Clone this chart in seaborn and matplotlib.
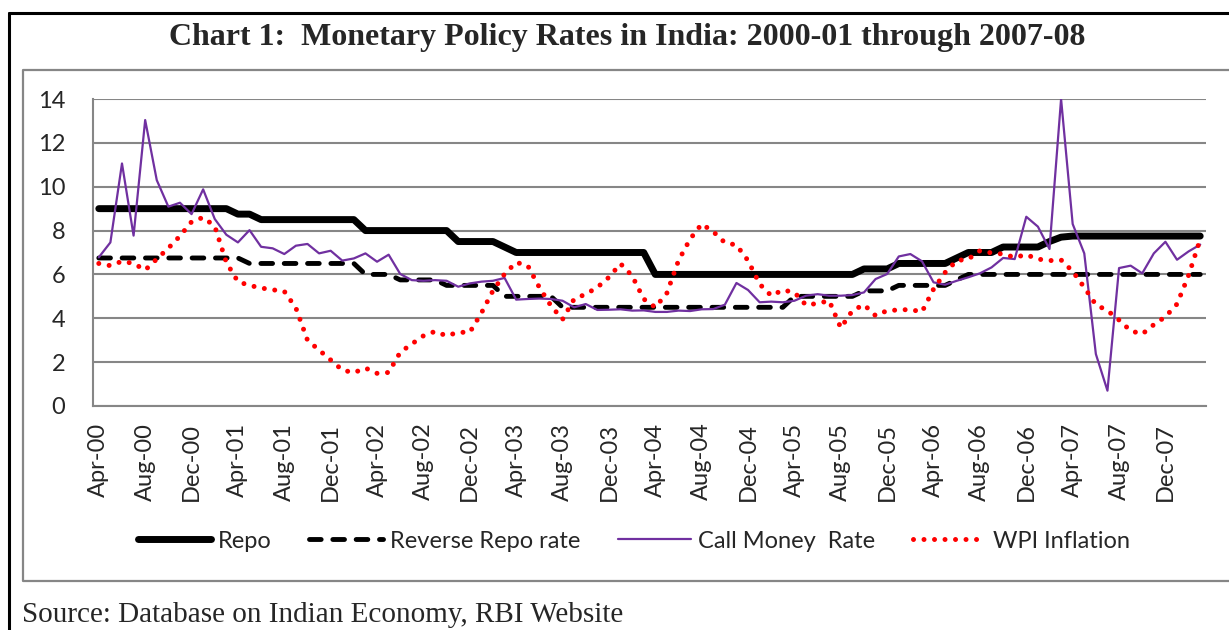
"""
Chart 1: monetary policy rates in India, Apr-2000 to Mar-2008
"""

import matplotlib
matplotlib.use('AGG')
import matplotlib.pyplot as plt
from matplotlib.lines import Line2D
import numpy as np
import pandas as pd
import seaborn as sns

# monthly values Apr-00 .. Mar-08 (96 months)
repo = ([9.0] * 12 + [8.75] * 2 + [8.5] * 9 + [8.0] * 8 + [7.5] * 4 + [7.25]
        + [7.0] * 12 + [6.0] * 18 + [6.25] * 3 + [6.5] * 5 + [6.75]
        + [7.0] * 3 + [7.25] * 4 + [7.5, 7.7] + [7.75] * 12)

reverse_repo = ([6.75] * 13 + [6.5] * 10 + [6.0] * 3 + [5.75] * 4 + [5.5] * 5
                + [5.0] * 5 + [4.5] * 20 + [5.0] * 6 + [5.25] * 3 + [5.5] * 5
                + [5.75] + [6.0] * 21)

call_money = [6.78, 7.46, 11.06, 7.77, 13.04, 10.3, 9.09, 9.27, 8.75, 9.88, 8.53, 7.81,
              7.46, 8.02, 7.26, 7.19, 6.93, 7.31, 7.39, 6.96, 7.08, 6.63, 6.73, 6.96,
              6.58, 6.9, 6.02, 5.74, 5.71, 5.74, 5.71, 5.44, 5.59, 5.67, 5.71, 5.84,
              4.85, 4.88, 4.9, 4.88, 4.8, 4.5, 4.65, 4.38, 4.39, 4.41, 4.35, 4.36,
              4.29, 4.29, 4.35, 4.33, 4.41, 4.42, 4.62, 5.61, 5.29, 4.73, 4.76, 4.73,
              4.8, 5.03, 5.1, 5.03, 5.03, 5.06, 5.18, 5.79, 6.02, 6.82, 6.93, 6.6,
              5.64, 5.53, 5.71, 5.87, 6.05, 6.32, 6.75, 6.7, 8.63, 8.18, 7.16, 14.0,
              8.3, 6.96, 2.37, 0.7, 6.29, 6.4, 6.05, 6.96, 7.49, 6.67, 7.05, 7.36]

wpi = [6.5, 6.4, 6.6, 6.5, 6.2, 6.7, 7.2, 7.75, 8.4, 8.6, 8.2, 6.55,
       5.67, 5.5, 5.38, 5.3, 5.23, 4.47, 3.0, 2.55, 2.1, 1.64, 1.52, 1.73,
       1.49, 1.53, 2.45, 2.83, 3.2, 3.4, 3.2, 3.36, 3.36, 4.24, 5.26, 6.02,
       6.55, 6.4, 5.41, 4.57, 3.95, 4.88, 5.1, 5.41, 5.87, 6.49, 5.94, 4.88,
       4.5, 5.15, 6.63, 7.61, 8.3, 7.95, 7.45, 7.34, 6.63, 5.56, 5.03, 5.29,
       5.18, 4.6, 4.68, 4.8, 3.56, 4.35, 4.62, 4.12, 4.35, 4.38, 4.4, 4.29,
       5.33, 6.09, 6.63, 6.7, 7.08, 6.98, 6.93, 6.78, 6.9, 6.7, 6.63, 6.66,
       6.14, 5.41, 4.62, 4.35, 3.92, 3.43, 3.28, 3.71, 4.07, 4.65, 5.96, 7.6]

tick_labels = ['Apr-00', 'Aug-00', 'Dec-00', 'Apr-01', 'Aug-01', 'Dec-01',
               'Apr-02', 'Aug-02', 'Dec-02', 'Apr-03', 'Aug-03', 'Dec-03',
               'Apr-04', 'Aug-04', 'Dec-04', 'Apr-05', 'Aug-05', 'Dec-05',
               'Apr-06', 'Aug-06', 'Dec-06', 'Apr-07', 'Aug-07', 'Dec-07']

df = pd.DataFrame({'month': np.arange(len(repo)), 'repo': repo,
                   'rrepo': reverse_repo, 'call': call_money, 'wpi': wpi})

sns.set_style('white')
plt.rcParams['font.family'] = ['Lato', 'DejaVu Sans']

grey = '#868686'
fig = plt.figure(figsize=(12.29, 6.3), dpi=100)
ax = fig.add_axes([93 / 1229, 1 - 406 / 630, 1113 / 1229, 307 / 630])

sns.lineplot(data=df, x='month', y='repo', ax=ax, color='black', lw=5,
             solid_capstyle='round', solid_joinstyle='round', label='Repo')
sns.lineplot(data=df, x='month', y='rrepo', ax=ax, color='black', lw=3.5,
             linestyle=(0, (2.4, 2.4)), dash_capstyle='round',
             dash_joinstyle='round', label='Reverse Repo rate')
sns.lineplot(data=df, x='month', y='call', ax=ax, color='#7030A0', lw=1.6,
             label='Call Money  Rate')
sns.lineplot(data=df, x='month', y='wpi', ax=ax, color='#FF0000', lw=3.6,
             linestyle=(0, (0.001, 2.1)), dash_capstyle='round',
             label='WPI Inflation')

ax.set_xlim(-0.5, len(repo) - 0.5)
ax.set_ylim(0, 14)
ax.set_yticks(range(0, 15, 2))
ax.set_xticks(np.arange(0, len(repo), 4))
ax.set_xticklabels(tick_labels, rotation=90, va='top', ha='center')
ax.set_xticks(np.arange(-0.5, len(repo), 4), minor=True)
ax.tick_params(axis='x', which='major', length=0, pad=12, labelsize=17)
ax.tick_params(axis='x', which='minor', length=8, width=1.5, color=grey,
               direction='out')
ax.tick_params(axis='y', length=8, width=1.5, color=grey, direction='out',
               pad=12, labelsize=17)
ax.yaxis.grid(True, color=grey, lw=1.5)
ax.set_axisbelow(True)
ax.set_xlabel('')
ax.set_ylabel('')
for side in ['top', 'right']:
    ax.spines[side].set_visible(False)
for side in ['left', 'bottom']:
    ax.spines[side].set_color(grey)
    ax.spines[side].set_linewidth(1.5)

handles, labels = ax.get_legend_handles_labels()
ax.get_legend().remove()
fig.legend(handles, labels, loc='center', bbox_to_anchor=(634 / 1229, 1 - 541 / 630),
           ncol=4, frameon=False, fontsize=17, handlelength=3.1,
           handletextpad=0.3, columnspacing=1.6)

fig.text(627 / 1229, 1 - 37 / 630,
         'Chart 1:  Monetary Policy Rates in India: 2000-01 through 2007-08',
         family='Liberation Serif', weight='bold', fontsize=23,
         ha='center', va='center')
fig.text(22 / 1229, 1 - 615 / 630, 'Source: Database on Indian Economy, RBI Website',
         family='Liberation Serif', fontsize=21, ha='left', va='center')

# document frame and chart frame
fig.add_artist(Line2D([9 / 1229, 9 / 1229], [0, 1 - 13 / 630], color='black',
                      lw=2.2, transform=fig.transFigure))
fig.add_artist(Line2D([9 / 1229, 1], [1 - 13 / 630, 1 - 13 / 630], color='black',
                      lw=2.2, transform=fig.transFigure))
fig.add_artist(Line2D([1, 23 / 1229, 23 / 1229, 1],
                      [1 - 70 / 630, 1 - 70 / 630, 1 - 581 / 630, 1 - 581 / 630],
                      color=grey, lw=1.6, transform=fig.transFigure))

fig.savefig('out.png', dpi=100)
plt.close()
